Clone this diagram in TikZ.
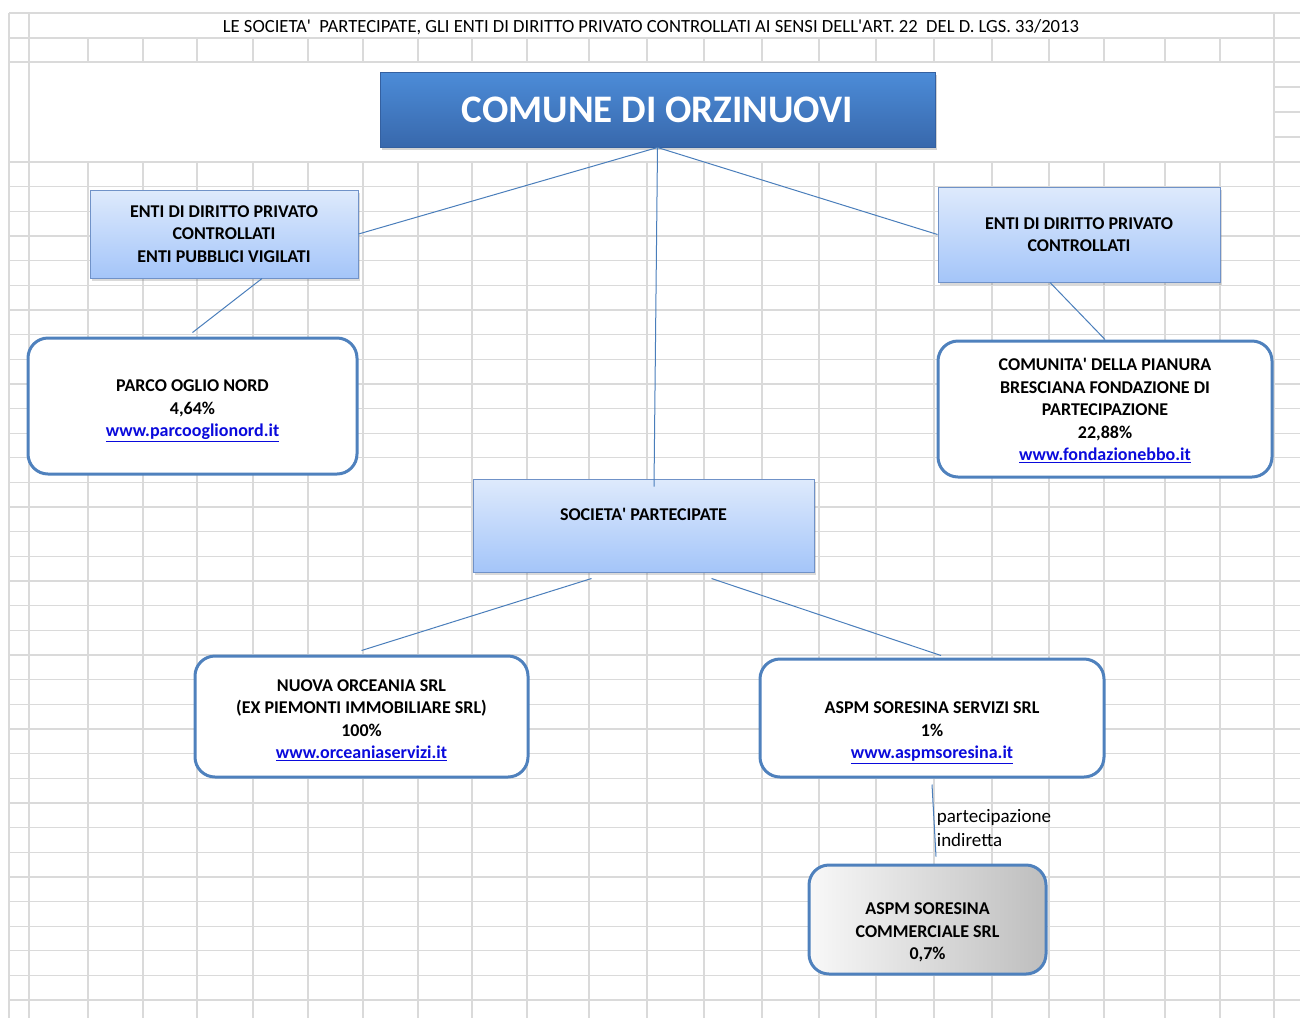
\documentclass[tikz,border=0pt]{standalone}
\usepackage{fontspec}
\setmainfont{Carlito}
\usetikzlibrary{positioning, calc, shadows}

\begin{document}
\begin{tikzpicture}
            [
                x=1pt, y=-1pt,
                every node/.style={align=center, font=\fontsize{18}{22.4}\selectfont\bfseries},
                gridline/.style={draw=gridGray, line width=1.3pt},
                link/.style={draw=linkBlue, line width=1pt},
                comuneBox/.style=
                {
                    draw=comuneBorder, line width=1pt, top color=comuneTop, bottom color=comuneBottom,
                    text=white, minimum width=555pt, minimum height=75pt,
                    drop shadow={shadow xshift=2pt, shadow yshift=-3pt, opacity=0.35},
                    font=\fontsize{39}{44}\selectfont\bfseries
                },
                headBox/.style=
                {
                    draw=headBorder, line width=1pt, top color=headTop, bottom color=headBottom,
                    drop shadow={shadow xshift=2pt, shadow yshift=-2.5pt, opacity=0.3}
                },
                entityBox/.style={draw=entityBorder, line width=3pt, fill=white, rounded corners=20pt},
                grayBox/.style={entityBox, left color=grayLight, right color=grayDark}
            ]
            \definecolor{gridGray}{RGB}{218, 218, 218}
            \definecolor{linkBlue}{RGB}{74, 126, 187}
            \definecolor{comuneTop}{RGB}{76, 140, 216}
            \definecolor{comuneBottom}{RGB}{56, 104, 172}
            \definecolor{comuneBorder}{RGB}{52, 96, 160}
            \definecolor{headTop}{RGB}{222, 234, 252}
            \definecolor{headBottom}{RGB}{164, 197, 249}
            \definecolor{headBorder}{RGB}{112, 146, 200}
            \definecolor{entityBorder}{RGB}{79, 129, 189}
            \definecolor{grayLight}{RGB}{248, 248, 248}
            \definecolor{grayDark}{RGB}{190, 190, 190}
            \definecolor{urlBlue}{RGB}{10, 10, 220}
            \newcommand{\sito}[1]{\textcolor{urlBlue}{\underline{#1}}}
            \newcommand{\giu}[1]{\rule{0pt}{#1}}
            \useasboundingbox (0,0) rectangle (1300,1018);
            % foglio
            \foreach \yy in {13,38,62}
                \draw[gridline] (9,\yy) -- (1300,\yy);
            \foreach \yy in {87,112,137}
                \draw[gridline] (1274,\yy) -- (1300,\yy);
            \foreach \k in {0,...,34}
                \draw[gridline] (9,{162+24.65*\k}) -- (1300,{162+24.65*\k});
            \foreach \xx in {9,29,1274}
                \draw[gridline] (\xx,13) -- (\xx,1018);
            \foreach \xx in {88,143,197,253,308,363,418,472,527,589,647,704,762,819,876,934,992,1049,1104,1165,1220}
                \draw[gridline] (\xx,38) -- (\xx,62) (\xx,162) -- (\xx,1018);
            \node[font=\fontsize{18.6}{22}\selectfont] (titolo) at (651,27)
                {LE SOCIETA\textquotesingle\ \ PARTECIPATE, GLI ENTI DI DIRITTO PRIVATO CONTROLLATI AI SENSI DELL\textquotesingle ART. 22\ \ DEL D. LGS. 33/2013};
            % caselle
            \node[comuneBox] (comune) at (657.5,109.5) {COMUNE DI ORZINUOVI};
            \node[headBox, minimum width=268pt, minimum height=88pt] (entiPub) at (224,234)
                {ENTI DI DIRITTO PRIVATO\\CONTROLLATI\\ENTI PUBBLICI VIGILATI};
            \node[headBox, minimum width=282pt, minimum height=95pt] (entiPriv) at (1079,234.5)
                {ENTI DI DIRITTO PRIVATO\\CONTROLLATI};
            \node[entityBox, minimum width=329pt, minimum height=136pt] (parco) at (192.5,406)
                {\giu{21.6pt}PARCO OGLIO NORD\\4,64\%\\\sito{www.parcooglionord.it}};
            \node[entityBox, minimum width=334pt, minimum height=136pt] (comunita) at (1105,409)
                {\giu{15.5pt}COMUNITA\textquotesingle\ DELLA PIANURA\\BRESCIANA FONDAZIONE DI\\PARTECIPAZIONE\\22,88\%\\\sito{www.fondazionebbo.it}};
            \node[headBox, minimum width=341pt, minimum height=93pt] (societa) at (643.5,525.5)
                {SOCIETA\textquotesingle\ PARTECIPATE\\\mbox{}};
            \node[entityBox, minimum width=333pt, minimum height=121pt] (orceania) at (361.5,716.5)
                {\giu{19pt}NUOVA ORCEANIA SRL\\(EX PIEMONTI IMMOBILIARE SRL)\\100\%\\\sito{www.orceaniaservizi.it}};
            \node[entityBox, minimum width=344pt, minimum height=118pt] (aspmServizi) at (932,718)
                {\giu{41pt}ASPM SORESINA SERVIZI SRL\\1\%\\\sito{www.aspmsoresina.it}};
            \node[grayBox, minimum width=237pt, minimum height=109pt] (aspmComm) at (927.5,919.5)
                {\giu{38pt}ASPM SORESINA\\COMMERCIALE SRL\\0,7\%};
            % collegamenti
            \draw[link] (comune.south) -- (entiPub.east);
            \draw[link] (comune.south) -- (entiPriv.west);
            \draw[link] (comune.south) -- ([xshift=10.5pt, yshift=-8pt]societa.north);
            \draw[link] ([xshift=38pt]entiPub.south) -- ([yshift=4pt]parco.north);
            \draw[link] ([xshift=-29pt]entiPriv.south) -- (comunita.north);
            \draw[link] ([xshift=-52pt, yshift=-6pt]societa.south) -- ([yshift=4pt]orceania.north);
            \draw[link] ([xshift=68pt, yshift=-6pt]societa.south) -- ([xshift=9pt, yshift=2pt]aspmServizi.north);
            \draw[link] ([yshift=-6pt]aspmServizi.south) -- ([xshift=8.5pt, yshift=7pt]aspmComm.north)
                node[pos=0.6, right, align=left, inner sep=2pt, font=\fontsize{19}{24}\selectfont] {partecipazione\\indiretta};
        \end{tikzpicture}
\end{document}
